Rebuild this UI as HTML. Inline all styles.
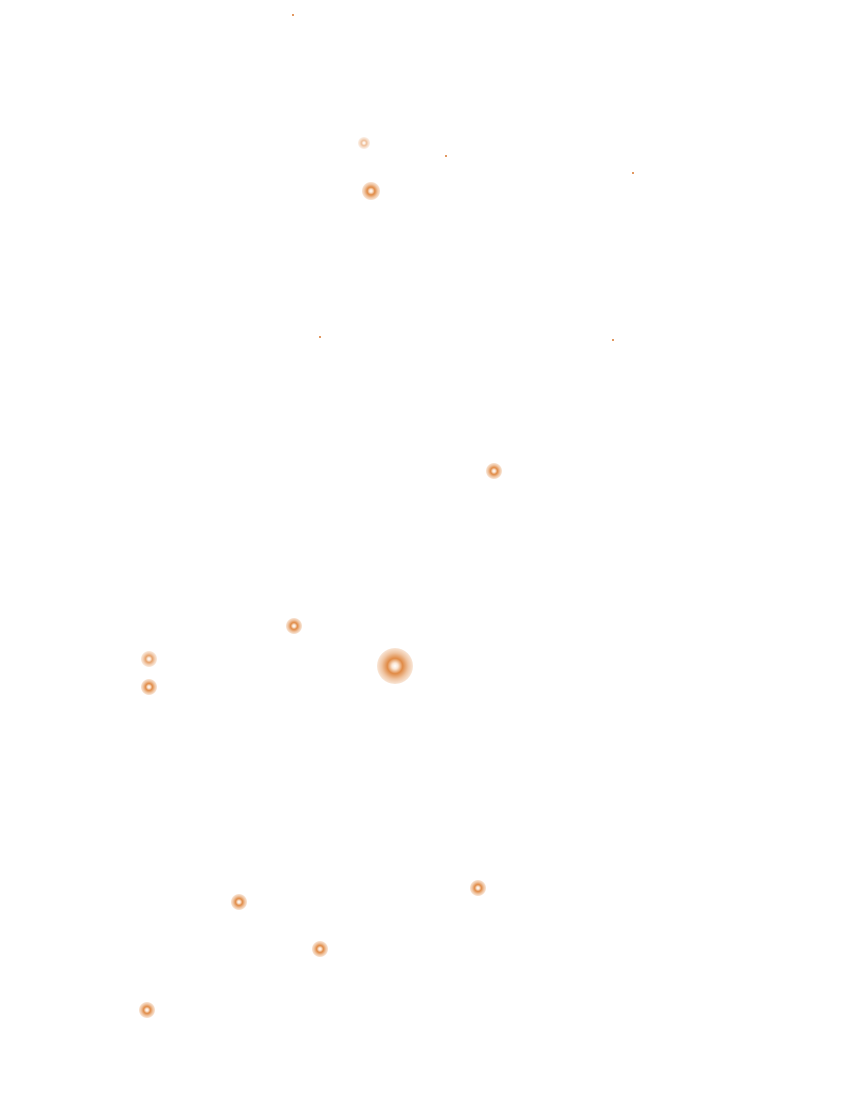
<!DOCTYPE html>
<html><head><style>
html,body{margin:0;padding:0;background:#fff;}
body{width:848px;height:1106px;position:relative;overflow:hidden;}
.d{position:absolute;border-radius:50%;background:radial-gradient(circle,#fff 0%,#fbe6d4 12%,#e08a45 30%,rgba(224,138,69,0.5) 52%,rgba(224,138,69,0.15) 75%,rgba(224,138,69,0) 100%);}
.t{position:absolute;width:2px;height:2px;border-radius:50%;background:#d9782f;}
</style></head><body>
<div class="t" style="left:292px;top:14px"></div>
<div class="t" style="left:445px;top:155px"></div>
<div class="t" style="left:632px;top:172px"></div>
<div class="t" style="left:319px;top:336px"></div>
<div class="t" style="left:612px;top:339px"></div>
<div class="d" style="left:358px;top:137px;width:12px;height:12px;opacity:.55"></div>
<div class="d" style="left:362px;top:182px;width:18px;height:18px"></div>
<div class="d" style="left:486px;top:463px;width:16px;height:16px"></div>
<div class="d" style="left:286px;top:618px;width:16px;height:16px"></div>
<div class="d" style="left:141px;top:651px;width:16px;height:16px;opacity:.8"></div>
<div class="d" style="left:141px;top:679px;width:16px;height:16px"></div>
<div class="d" style="left:377px;top:648px;width:36px;height:36px"></div>
<div class="d" style="left:470px;top:880px;width:16px;height:16px"></div>
<div class="d" style="left:231px;top:894px;width:16px;height:16px"></div>
<div class="d" style="left:312px;top:941px;width:16px;height:16px"></div>
<div class="d" style="left:139px;top:1002px;width:16px;height:16px"></div>
</body></html>
